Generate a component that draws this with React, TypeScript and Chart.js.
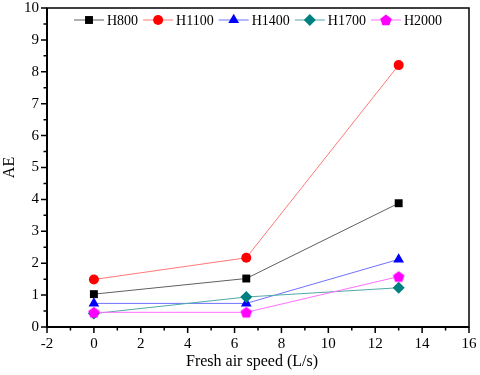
import React, { useEffect, useRef } from "react";
import { Chart, registerables } from "chart.js";
import { drawPoint } from "chart.js/helpers";

Chart.register(...registerables);

const speeds = [0, 6.5, 13];
const seriesNames = ["H800", "H1100", "H1400", "H1700", "H2000"];
const h800 = [1.03, 1.52, 3.88];
const h1100 = [1.49, 2.17, 8.21];
const h1400 = [0.74, 0.74, 2.12];
const h1700 = [0.42, 0.94, 1.23];
const h2000 = [0.46, 0.46, 1.58];
const xTicks = [-2, 0, 2, 4, 6, 8, 10, 12, 14, 16];
const yTicks = [0, 1, 2, 3, 4, 5, 6, 7, 8, 9, 10];
const xTitle = "Fresh air speed (L/s)";
const yTitle = "AE";

const FONT = "'Liberation Serif', 'Times New Roman', serif";

function makePentagon(color: string, r: number): HTMLCanvasElement {
  const size = Math.ceil(r * 2 + 2);
  const c = document.createElement("canvas");
  c.width = size;
  c.height = size;
  const ctx = c.getContext("2d")!;
  const cx = size / 2;
  const cy = size / 2 + 0.5;
  ctx.beginPath();
  for (let i = 0; i < 5; i++) {
    const a = -Math.PI / 2 + (i * 2 * Math.PI) / 5;
    const px = cx + r * Math.cos(a);
    const py = cy + r * Math.sin(a);
    if (i === 0) ctx.moveTo(px, py);
    else ctx.lineTo(px, py);
  }
  ctx.closePath();
  ctx.fillStyle = color;
  ctx.fill();
  return c;
}

export default function App() {
  const ref = useRef<HTMLCanvasElement | null>(null);

  useEffect(() => {
    document.body.style.margin = "0";
    const canvas = ref.current!;
    const pent = makePentagon("#ff00ff", 6);

    const values = [h800, h1100, h1400, h1700, h2000];
    const markerColors = ["#000000", "#ff0000", "#0000ff", "#008080", "#ff00ff"];
    const lineColors = ["#606060", "#ff7878", "#7070ff", "#50a8a8", "#ff70ff"];
    const styles: any[] = ["rect", "circle", "triangle", "rectRot", pent];
    const radii = [5.6, 5, 6.2, 6, 6];

    const datasets = seriesNames.map((name, i) => ({
      label: name,
      data: speeds.map((x, j) => ({ x, y: values[i][j] })),
      borderColor: lineColors[i],
      borderWidth: 1,
      backgroundColor: markerColors[i],
      pointBackgroundColor: markerColors[i],
      pointBorderColor: markerColors[i],
      pointBorderWidth: 0,
      pointStyle: styles[i],
      pointRadius: radii[i],
      showLine: true,
      tension: 0,
      order: 5 - i,
    }));

    const framePlugin = {
      id: "frame",
      afterDraw(chart: any) {
        const ctx = chart.ctx;
        const { left, right, top, bottom } = chart.chartArea;
        const xs = chart.scales.x;
        const ys = chart.scales.y;
        ctx.save();
        ctx.strokeStyle = "#000";
        ctx.lineWidth = 1.5;
        ctx.strokeRect(left, top, right - left, bottom - top);
        ctx.lineWidth = 2;
        ctx.beginPath();
        ctx.moveTo(left, top);
        ctx.lineTo(left, bottom);
        ctx.lineTo(right, bottom);
        ctx.stroke();
        // ticks
        ctx.lineWidth = 1.5;
        ctx.beginPath();
        for (let v = -2; v <= 16; v += 1) {
          const px = xs.getPixelForValue(v);
          const len = v % 2 === 0 ? 6 : 3.5;
          ctx.moveTo(px, bottom);
          ctx.lineTo(px, bottom + len);
        }
        for (let v = 0; v <= 10; v += 0.5) {
          const py = ys.getPixelForValue(v);
          const len = Number.isInteger(v) ? 6 : 3.5;
          ctx.moveTo(left, py);
          ctx.lineTo(left - len, py);
        }
        ctx.stroke();

        // tick labels
        ctx.fillStyle = "#000";
        ctx.font = `15px ${FONT}`;
        ctx.textAlign = "center";
        ctx.textBaseline = "middle";
        xTicks.forEach((v) => {
          ctx.fillText(String(v), xs.getPixelForValue(v), bottom + 17);
        });
        ctx.textAlign = "right";
        yTicks.forEach((v) => {
          ctx.fillText(String(v), left - 8, ys.getPixelForValue(v));
        });

        // titles
        ctx.font = `16px ${FONT}`;
        ctx.textAlign = "center";
        ctx.fillText(xTitle, (left + right) / 2 - 6, 362);
        ctx.save();
        ctx.translate(10, (top + bottom) / 2);
        ctx.rotate(-Math.PI / 2);
        ctx.fillText(yTitle, 0, 0);
        ctx.restore();

        // legend
        ctx.font = `14px ${FONT}`;
        ctx.textAlign = "left";
        ctx.textBaseline = "middle";
        let x = 74;
        const ly = 20;
        chart.data.datasets.forEach((ds: any) => {
          ctx.strokeStyle = ds.borderColor;
          ctx.lineWidth = 1;
          ctx.beginPath();
          ctx.moveTo(x, ly);
          ctx.lineTo(x + 30, ly);
          ctx.stroke();
          ctx.fillStyle = ds.pointBackgroundColor;
          ctx.strokeStyle = ds.pointBorderColor;
          drawPoint(ctx, {
            pointStyle: ds.pointStyle,
            radius: ds.pointRadius,
            rotation: 0,
            borderWidth: 0,
          } as any, x + 15, ly);
          ctx.fillStyle = "#000";
          ctx.fillText(ds.label, x + 33, ly + 1);
          x = x + 33 + ctx.measureText(ds.label).width + 5;
        });
        ctx.restore();
      },
    };

    const chart = new Chart(canvas, {
      type: "scatter",
      data: { datasets: datasets as any },
      options: {
        responsive: false,
        animation: false,
        layout: { padding: { top: 8, right: 11, left: 0, bottom: 0 } },
        plugins: {
          legend: { display: false },
          tooltip: { enabled: false },
        },
        scales: {
          x: {
            type: "linear",
            min: -2,
            max: 16,
            afterBuildTicks: (s: any) => {
              s.ticks = xTicks.map((v) => ({ value: v }));
            },
            afterFit: (s: any) => {
              s.height = 48;
              s.paddingLeft = 0;
              s.paddingRight = 0;
            },
            grid: { display: false },
            border: { display: false },
            ticks: { display: false },
          },
          y: {
            type: "linear",
            min: 0,
            max: 10,
            afterBuildTicks: (s: any) => {
              s.ticks = yTicks.map((v) => ({ value: v }));
            },
            afterFit: (s: any) => {
              s.width = 47;
              s.paddingTop = 0;
              s.paddingBottom = 0;
            },
            grid: { display: false },
            border: { display: false },
            ticks: { display: false },
          },
        },
      },
      plugins: [framePlugin],
    });
    return () => chart.destroy();
  }, []);

  return <canvas ref={ref} width={480} height={375} style={{ display: "block" }} />;
}
